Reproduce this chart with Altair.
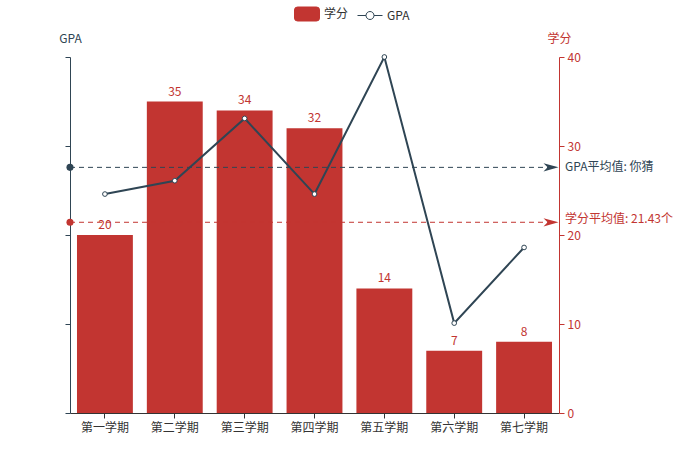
import altair as alt
import pandas as pd

# ---------------- data ----------------
terms = ["第一学期", "第二学期", "第三学期", "第四学期", "第五学期", "第六学期", "第七学期"]
credits = [20, 35, 34, 32, 14, 7, 8]
gpa = [2.46, 2.61, 3.31, 2.46, 4.0, 1.01, 1.86]
credit_avg_value = [21.43]
credit_avg_label = ["学分平均值: 21.43个"]
gpa_avg_value = [2.76]
gpa_avg_label = ["GPA平均值: 你猜"]
series = ["学分", "GPA"]
credit_ticks = [0, 10, 20, 30, 40]
gpa_ticks = [0, 1, 2, 3, 4]

# ---------------- style ----------------
RED = "#c23531"
DARK = "#2f4554"
AXIS = "#333333"
FONT = "Noto Sans CJK SC"
W, H = 489, 356
PAD_L, PAD_T = 70, 57

ARROW = "M1,0 L-1,-0.55 L-0.45,0 L-1,0.55 Z"
BAR_SYM = ("M-1,-0.32 Q-1,-0.56 -0.76,-0.56 L0.76,-0.56 Q1,-0.56 1,-0.32 "
           "L1,0.32 Q1,0.56 0.76,0.56 L-0.76,0.56 Q-1,0.56 -1,0.32 Z")
LINE_SYM = ("M-1,0 L-0.32,0 M0.32,0 L1,0 M0.32,0 A0.32,0.32 0 1,1 -0.32,0 "
            "A0.32,0.32 0 1,1 0.32,0 Z")

df = pd.DataFrame({"学期": terms, "学分": credits, "GPA": gpa})
credit_avg = pd.DataFrame({"学分": credit_avg_value, "label": credit_avg_label})
gpa_avg = pd.DataFrame({"GPA": gpa_avg_value, "label": gpa_avg_label})
legend_df = pd.DataFrame({"series": series})

x_enc = alt.X(
    "学期:N", sort=terms,
    scale=alt.Scale(paddingInner=0.2, paddingOuter=0.1),
    axis=alt.Axis(title=None, domainColor=AXIS, tickColor=AXIS, labelColor=AXIS,
                  labelFont=FONT, labelFontSize=12, tickSize=5, labelPadding=4,
                  labelAngle=0),
)

y_credit = alt.Y(
    "学分:Q",
    scale=alt.Scale(domain=[0, 40], nice=False, zero=True),
    axis=alt.Axis(orient="right", title="学分", titleAngle=0, titleX=0, titleY=-19,
                  titleAlign="center", titleBaseline="middle", titleColor=RED,
                  titleFont=FONT, titleFontSize=12, titleFontWeight="normal",
                  domainColor=RED, tickColor=RED, labelColor=RED, labelFont=FONT,
                  labelFontSize=12, values=credit_ticks, grid=False, tickSize=5,
                  labelPadding=3),
)

y_gpa = alt.Y(
    "GPA:Q",
    scale=alt.Scale(domain=[0, 4], nice=False, zero=True),
    axis=alt.Axis(orient="left", title="GPA", titleAngle=0, titleX=0, titleY=-19,
                  titleAlign="center", titleBaseline="middle", titleColor=DARK,
                  titleFont=FONT, titleFontSize=12, titleFontWeight="normal",
                  domainColor=DARK, tickColor=DARK, labels=False,
                  values=gpa_ticks, grid=False, tickSize=5),
)

# ---------------- credit group ----------------
bars = alt.Chart(df).mark_bar(color=RED).encode(x=x_enc, y=y_credit)
bar_text = alt.Chart(df).mark_text(
    color=RED, font=FONT, fontSize=12, baseline="bottom", dy=-3
).encode(x=x_enc, y=y_credit, text="学分:Q")

c_rule = alt.Chart(credit_avg).mark_rule(
    color=RED, strokeDash=[5, 4], strokeWidth=1
).encode(y=y_credit, x=alt.value(0), x2=alt.value(W - 10))
c_dot = alt.Chart(credit_avg).mark_point(
    shape="circle", filled=True, color=RED, size=50, opacity=1
).encode(y=y_credit, x=alt.value(0))
c_arrow = alt.Chart(credit_avg).mark_point(
    shape=ARROW, filled=True, color=RED, size=225, opacity=1
).encode(y=y_credit, x=alt.value(W - 8))
c_label = alt.Chart(credit_avg).mark_text(
    align="left", baseline="middle", color=RED, font=FONT, fontSize=12, dy=-3
).encode(y=y_credit, x=alt.value(W + 6), text="label:N")

leg = alt.Legend(orient="none", legendX=224, legendY=-56, direction="horizontal",
                 title=None, symbolSize=625, symbolStrokeWidth=1,
                 labelFont=FONT, labelFontSize=12, labelColor=AXIS,
                 columnPadding=6, labelOffset=4)
legend_layer = alt.Chart(legend_df).mark_point(filled=True, opacity=1).encode(
    fill=alt.Fill("series:N", scale=alt.Scale(domain=series, range=[RED, "white"]), legend=leg),
    stroke=alt.Stroke("series:N", scale=alt.Scale(domain=series, range=[RED, DARK]), legend=leg),
    shape=alt.Shape("series:N", scale=alt.Scale(domain=series, range=[BAR_SYM, LINE_SYM]), legend=leg),
).transform_filter("false")

credit_group = alt.layer(bars, bar_text, c_rule, c_dot, c_arrow, c_label, legend_layer)

# ---------------- GPA group ----------------
line = alt.Chart(df).mark_line(color=DARK, strokeWidth=2).encode(x=x_enc, y=y_gpa)
pts = alt.Chart(df).mark_point(
    shape="circle", filled=True, fill="white", stroke=DARK, strokeWidth=1,
    size=22, opacity=1
).encode(x=x_enc, y=y_gpa)

g_rule = alt.Chart(gpa_avg).mark_rule(
    color=DARK, strokeDash=[5, 4], strokeWidth=1
).encode(y=y_gpa, x=alt.value(0), x2=alt.value(W - 10))
g_dot = alt.Chart(gpa_avg).mark_point(
    shape="circle", filled=True, color=DARK, size=50, opacity=1
).encode(y=y_gpa, x=alt.value(0))
g_arrow = alt.Chart(gpa_avg).mark_point(
    shape=ARROW, filled=True, color=DARK, size=225, opacity=1
).encode(y=y_gpa, x=alt.value(W - 8))
g_label = alt.Chart(gpa_avg).mark_text(
    align="left", baseline="middle", color=DARK, font=FONT, fontSize=12
).encode(y=y_gpa, x=alt.value(W + 6), text="label:N")

gpa_group = alt.layer(line, pts, g_rule, g_dot, g_arrow, g_label)

chart = alt.layer(credit_group, gpa_group).resolve_scale(
    y="independent"
).properties(
    width=W, height=H,
    autosize=alt.AutoSizeParams(type="none"),
    padding={"left": PAD_L, "top": PAD_T, "right": 700 - PAD_L - W, "bottom": 469 - PAD_T - H},
    background="white",
).configure_view(stroke=None)

chart.save("out.html", embed_options={"renderer": "svg", "actions": False})
